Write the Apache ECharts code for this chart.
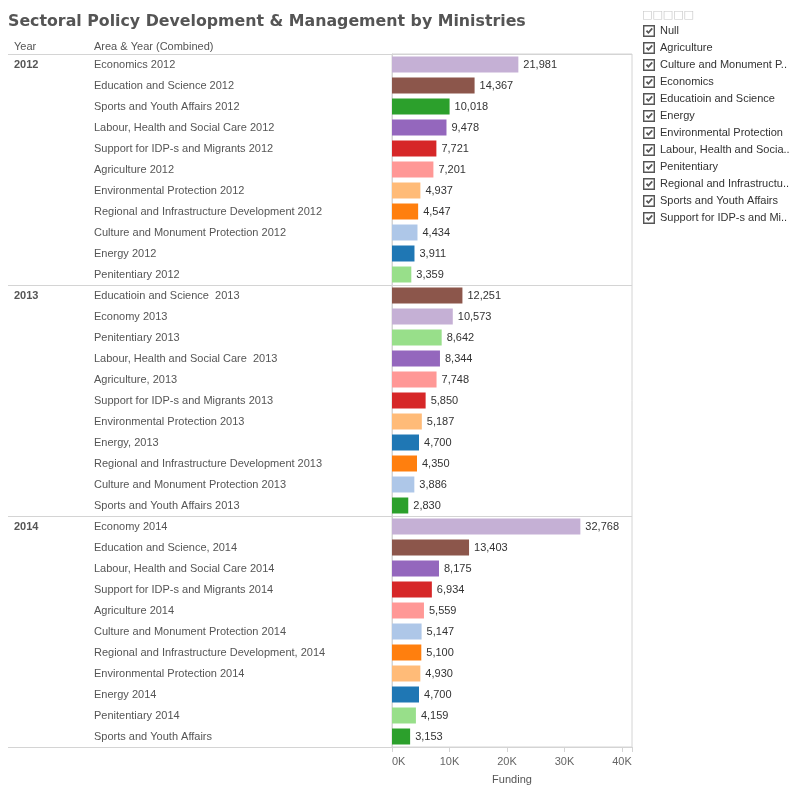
<!DOCTYPE html>
<html>
<head>
<meta charset="utf-8">
<title>Sectoral Policy Development & Management by Ministries</title>
<script src="https://cdn.jsdelivr.net/npm/echarts@6/dist/echarts.min.js"></script>
<style>
  html, body { margin: 0; padding: 0; background: #fff; }
  #chart { width: 799px; height: 799px; }
</style>
</head>
<body>
<div id="chart"></div>
<script>
// years shown in the first column, each followed by its rows
var years = ['2012', '2013', '2014'];

var labels2012 = ['Economics 2012', 'Education and Science 2012', 'Sports and Youth Affairs 2012',
  'Labour, Health and Social Care 2012', 'Support for IDP-s and Migrants 2012', 'Agriculture 2012',
  'Environmental Protection 2012', 'Regional and Infrastructure Development 2012',
  'Culture and Monument Protection 2012', 'Energy 2012', 'Penitentiary 2012'];
var areas2012 = ['Economics', 'Educatioin and Science', 'Sports and Youth Affairs',
  'Labour, Health and Social Care', 'Support for IDP-s and Migrants', 'Agriculture',
  'Environmental Protection', 'Regional and Infrastructure Development',
  'Culture and Monument Protection', 'Energy', 'Penitentiary'];
var values2012 = [21981, 14367, 10018, 9478, 7721, 7201, 4937, 4547, 4434, 3911, 3359];

var labels2013 = ['Educatioin and Science  2013', 'Economy 2013', 'Penitentiary 2013',
  'Labour, Health and Social Care  2013', 'Agriculture, 2013', 'Support for IDP-s and Migrants 2013',
  'Environmental Protection 2013', 'Energy, 2013', 'Regional and Infrastructure Development 2013',
  'Culture and Monument Protection 2013', 'Sports and Youth Affairs 2013'];
var areas2013 = ['Educatioin and Science', 'Economics', 'Penitentiary',
  'Labour, Health and Social Care', 'Agriculture', 'Support for IDP-s and Migrants',
  'Environmental Protection', 'Energy', 'Regional and Infrastructure Development',
  'Culture and Monument Protection', 'Sports and Youth Affairs'];
var values2013 = [12251, 10573, 8642, 8344, 7748, 5850, 5187, 4700, 4350, 3886, 2830];

var labels2014 = ['Economy 2014', 'Education and Science, 2014', 'Labour, Health and Social Care 2014',
  'Support for IDP-s and Migrants 2014', 'Agriculture 2014', 'Culture and Monument Protection 2014',
  'Regional and Infrastructure Development, 2014', 'Environmental Protection 2014', 'Energy 2014',
  'Penitentiary 2014', 'Sports and Youth Affairs'];
var areas2014 = ['Economics', 'Educatioin and Science', 'Labour, Health and Social Care',
  'Support for IDP-s and Migrants', 'Agriculture', 'Culture and Monument Protection',
  'Regional and Infrastructure Development', 'Environmental Protection', 'Energy',
  'Penitentiary', 'Sports and Youth Affairs'];
var values2014 = [32768, 13403, 8175, 6934, 5559, 5147, 5100, 4930, 4700, 4159, 3153];

// legend entries (colour legend on the right)
var legendAreas = ['Null', 'Agriculture', 'Culture and Monument Protection', 'Economics',
  'Educatioin and Science', 'Energy', 'Environmental Protection', 'Labour, Health and Social Care',
  'Penitentiary', 'Regional and Infrastructure Development', 'Sports and Youth Affairs',
  'Support for IDP-s and Migrants'];

var xTicks = [0, 10000, 20000, 30000, 40000];

// tableau 20 colours per area
var areaColors = {
  'Null': '#7f7f7f',
  'Agriculture': '#ff9896',
  'Culture and Monument Protection': '#aec7e8',
  'Economics': '#c5b0d5',
  'Educatioin and Science': '#8c564b',
  'Energy': '#1f77b4',
  'Environmental Protection': '#ffbb78',
  'Labour, Health and Social Care': '#9467bd',
  'Penitentiary': '#98df8a',
  'Regional and Infrastructure Development': '#ff7f0e',
  'Sports and Youth Affairs': '#2ca02c',
  'Support for IDP-s and Migrants': '#d62728'
};

// flatten the groups into rows
var groupLabels = [labels2012, labels2013, labels2014];
var groupAreas = [areas2012, areas2013, areas2014];
var groupValues = [values2012, values2013, values2014];

var rowLabels = [], rowAreas = [], rowValues = [], rowYears = [], groupStart = {};
for (var g = 0; g < years.length; g++) {
  groupStart[rowLabels.length] = true;
  for (var i = 0; i < groupLabels[g].length; i++) {
    rowYears.push(i === 0 ? years[g] : '');
    rowLabels.push(groupLabels[g][i]);
    rowAreas.push(groupAreas[g][i]);
    rowValues.push(groupValues[g][i]);
  }
}

function isGroupStart(index) {
  return !!groupStart[index];
}

var font = 'Liberation Sans, Arial, sans-serif';
var lineColor = '#d4d4d4';

var series = legendAreas.map(function (area) {
  return {
    name: area,
    type: 'bar',
    stack: 'all',
    barWidth: 16,
    xAxisIndex: 0,
    yAxisIndex: 0,
    itemStyle: { color: areaColors[area] },
    label: {
      show: true,
      position: 'right',
      distance: 5,
      color: '#333',
      fontSize: 11,
      fontFamily: font,
      formatter: function (p) { return Number(p.value).toLocaleString('en-US'); }
    },
    data: rowValues.map(function (v, i) { return rowAreas[i] === area ? v : '-'; })
  };
});

// check box drawn as one path: frame with a hole and a tick inside
var checkIcon = 'path://M0,0L12,0L12,12L0,12Z M1.4,1.4L1.4,10.6L10.6,10.6L10.6,1.4Z ' +
  'M2.8,6.2L4.2,4.9L5.4,6.4L8.6,2.8L9.9,4L5.4,9Z';

var chart = echarts.init(document.getElementById('chart'));
chart.setOption({
  animation: false,
  textStyle: { fontFamily: font },
  title: {
    text: 'Sectoral Policy Development & Management by Ministries',
    left: 3,
    top: 9,
    textStyle: { fontSize: 15.8, fontWeight: 'bold', color: '#555', fontFamily: 'DejaVu Sans, sans-serif' }
  },
  legend: {
    orient: 'vertical',
    left: 638,
    top: 20,
    itemWidth: 12,
    itemHeight: 12,
    itemGap: 5,
    selectedMode: false,
    icon: checkIcon,
    itemStyle: { color: '#555', borderWidth: 0 },
    textStyle: {
      fontSize: 11,
      color: '#333',
      fontFamily: font,
      width: 132,
      overflow: 'truncate',
      ellipsis: '..'
    },
    data: legendAreas
  },
  graphic: [
    { type: 'text', left: 14, top: 41, style: { text: 'Year', fontSize: 11, fill: '#555', fontFamily: font } },
    { type: 'text', left: 94, top: 41, style: { text: 'Area & Year (Combined)', fontSize: 11, fill: '#555', fontFamily: font } },
    { type: 'text', left: 642, top: 10, style: { text: '\u25a1\u25a1\u25a1\u25a1\u25a1', fontSize: 11, fill: '#c8c8c8', fontFamily: 'DejaVu Sans' } }
  ],
  grid: [
    { left: 392, right: 167, top: 54, bottom: 52, show: true, borderColor: lineColor, borderWidth: 1 },
    { left: 8, width: 384, top: 54, bottom: 52 }
  ],
  xAxis: [
    {
      type: 'value',
      gridIndex: 0,
      min: 0,
      max: 41750,
      interval: 10000,
      name: 'Funding',
      nameLocation: 'middle',
      nameGap: 27,
      nameTextStyle: { fontSize: 11, color: '#555', fontFamily: font },
      axisLine: { show: true, lineStyle: { color: lineColor } },
      axisTick: { show: true, length: 5, lineStyle: { color: lineColor } },
      splitLine: { show: false },
      axisLabel: {
        margin: 9,
        fontSize: 11,
        color: '#666',
        fontFamily: font,
        alignMinLabel: 'left',
        formatter: function (v) { return xTicks.indexOf(v) >= 0 ? (v / 1000) + 'K' : ''; }
      }
    },
    { type: 'value', gridIndex: 1, show: false }
  ],
  yAxis: [
    {
      type: 'category',
      gridIndex: 0,
      inverse: true,
      data: rowLabels,
      axisLine: { show: true, lineStyle: { color: lineColor } },
      axisTick: { show: false },
      axisLabel: { interval: 0, margin: 298, align: 'left', fontSize: 11, color: '#555', fontFamily: font },
      splitLine: { show: true, interval: isGroupStart, lineStyle: { color: lineColor } }
    },
    {
      type: 'category',
      gridIndex: 1,
      inverse: true,
      data: rowYears,
      axisLine: { show: false },
      axisTick: { show: false },
      axisLabel: { interval: 0, inside: true, margin: 6, align: 'left', fontSize: 11, fontWeight: 'bold', color: '#555', fontFamily: font },
      splitLine: { show: true, interval: isGroupStart, lineStyle: { color: lineColor } }
    }
  ],
  series: series
});
</script>
</body>
</html>
